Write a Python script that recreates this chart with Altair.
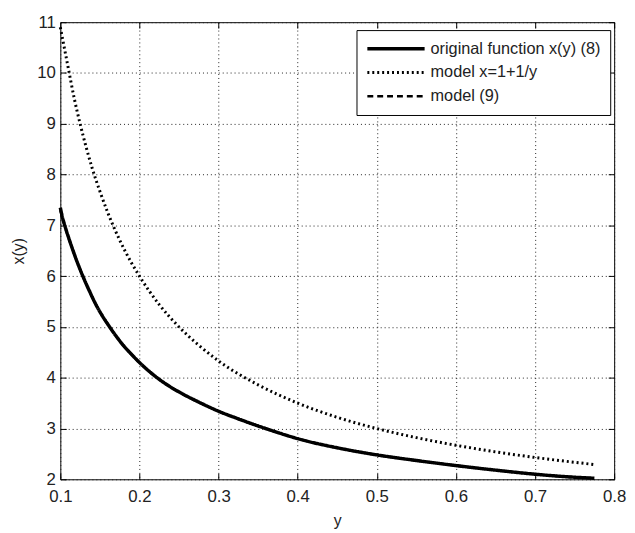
import altair as alt
import pandas as pd

# series names
series_names = ["original function x(y) (8)", "model x=1+1/y", "model (9)"]

# original function x(y) (8)
orig_y = [0.1, 0.102, 0.105, 0.11, 0.115, 0.122, 0.129, 0.137, 0.145, 0.153, 0.161, 0.17, 0.18, 0.19, 0.2,
          0.212, 0.224, 0.237, 0.25, 0.275, 0.3, 0.325, 0.35, 0.375, 0.4, 0.45, 0.5, 0.55, 0.6, 0.65, 0.7, 0.74, 0.775]
orig_x = [7.35, 7.2, 7.03, 6.78, 6.55, 6.25, 5.98, 5.7, 5.44, 5.22, 5.03, 4.83, 4.63, 4.46, 4.3,
          4.13, 3.98, 3.84, 3.72, 3.52, 3.34, 3.19, 3.05, 2.92, 2.8, 2.62, 2.48, 2.37, 2.27, 2.18, 2.1, 2.05, 2.02]

# model x=1+1/y
dot_y = [0.1, 0.105, 0.11, 0.118, 0.125, 0.133, 0.14, 0.15, 0.16, 0.175, 0.19, 0.2, 0.225, 0.25, 0.275, 0.3, 0.35,
         0.4, 0.45, 0.5, 0.55, 0.6, 0.65, 0.7, 0.775]
dot_x = [10.9, 10.5, 10.1, 9.47, 9.0, 8.52, 8.14, 7.67, 7.25, 6.71, 6.26, 6.0, 5.44, 5.0, 4.64, 4.33, 3.86,
         3.5, 3.22, 3.0, 2.82, 2.67, 2.54, 2.43, 2.29]

# model (9) (lies on top of the original curve)
m9_y = [0.1, 0.105, 0.115, 0.129, 0.145, 0.161, 0.18, 0.2, 0.224, 0.25, 0.3, 0.35, 0.4, 0.45, 0.5, 0.55, 0.6, 0.65, 0.7, 0.74, 0.775]
m9_x = [7.3, 7.02, 6.55, 5.98, 5.44, 5.03, 4.63, 4.3, 3.98, 3.72, 3.34, 3.05, 2.8, 2.62, 2.48, 2.37, 2.27, 2.18, 2.1, 2.05, 2.02]

x_ticks = [0.1, 0.2, 0.3, 0.4, 0.5, 0.6, 0.7, 0.8]
y_ticks = [2, 3, 4, 5, 6, 7, 8, 9, 10, 11]

rows = []
for name, ys, xs in [(series_names[0], orig_y, orig_x),
                     (series_names[1], dot_y, dot_x),
                     (series_names[2], m9_y, m9_x)]:
    for i, (a, b) in enumerate(zip(ys, xs)):
        rows.append({"yv": a, "xv": b, "series": name, "i": i})
df = pd.DataFrame(rows)

FONT = "Liberation Sans"
TXT = "#222222"

xscale = alt.Scale(domain=[0.1, 0.8], nice=False, zero=False)
yscale = alt.Scale(domain=[2, 11], nice=False, zero=False)

leg = alt.Legend(title=None)

lines = alt.Chart(df).mark_line(color="black", interpolate="monotone").encode(
    x=alt.X("yv:Q", scale=xscale, title="y",
            axis=alt.Axis(values=x_ticks, format=".1f", grid=True, gridDash=[1, 3],
                          gridColor="#222222", gridWidth=1, domain=False,
                          tickSize=6, offset=-6, tickColor="black",
                          labelPadding=9, labelFontSize=17, labelFont=FONT,
                          labelColor=TXT, labelFlush=False, titleFont=FONT,
                          titleFontSize=16, titleFontWeight="normal", titleColor=TXT,
                          titlePadding=9)),
    y=alt.Y("xv:Q", scale=yscale, title="x(y)",
            axis=alt.Axis(values=y_ticks, format="d", grid=True, gridDash=[1, 3],
                          gridColor="#222222", gridWidth=1, domain=False,
                          tickSize=6, offset=-6, tickColor="black",
                          labelPadding=5, labelFontSize=17, labelFont=FONT,
                          labelColor=TXT, labelFlush=False, titleFont=FONT,
                          titleFontSize=16, titleFontWeight="normal", titleColor=TXT,
                          titlePadding=10)),
    color=alt.Color("series:N", scale=alt.Scale(domain=series_names, range=["black", "black", "black"]), legend=leg),
    strokeDash=alt.StrokeDash("series:N", scale=alt.Scale(domain=series_names, range=[[1, 0], [2, 3], [6, 4]]), legend=leg),
    strokeWidth=alt.StrokeWidth("series:N", scale=alt.Scale(domain=series_names, range=[3.5, 2.5, 1]), legend=leg),
    order="i:Q",
)

ticks2 = alt.Chart(df).mark_point(opacity=0).encode(
    x=alt.X("yv:Q", scale=xscale, title=None,
            axis=alt.Axis(orient="top", values=x_ticks, grid=False, labels=False, domain=False,
                          tickSize=6, offset=-6, tickColor="black")),
    y=alt.Y("xv:Q", scale=yscale, title=None,
            axis=alt.Axis(orient="right", values=y_ticks, grid=False, labels=False, domain=False,
                          tickSize=6, offset=-6, tickColor="black")),
)

chart = alt.layer(lines, ticks2).resolve_axis(x="independent", y="independent").properties(
    width=561, height=463,
    autosize=alt.AutoSizeParams(type="none"),
    padding={"left": 53, "top": 11, "right": 13, "bottom": 49},
    background="white",
).configure_view(stroke="black", strokeWidth=1).configure_legend(
    orient="none", legendX=300, legendY=8, fillColor="white", strokeColor="black",
    padding=9, labelFontSize=16.5, labelFont=FONT, labelColor=TXT, symbolType="stroke",
    symbolSize=3364, labelOffset=4, rowPadding=4, clipHeight=20, labelLimit=0,
    symbolStrokeColor="black", cornerRadius=0,
)

chart.save("out.html", embed_options={"renderer": "svg", "actions": False})
